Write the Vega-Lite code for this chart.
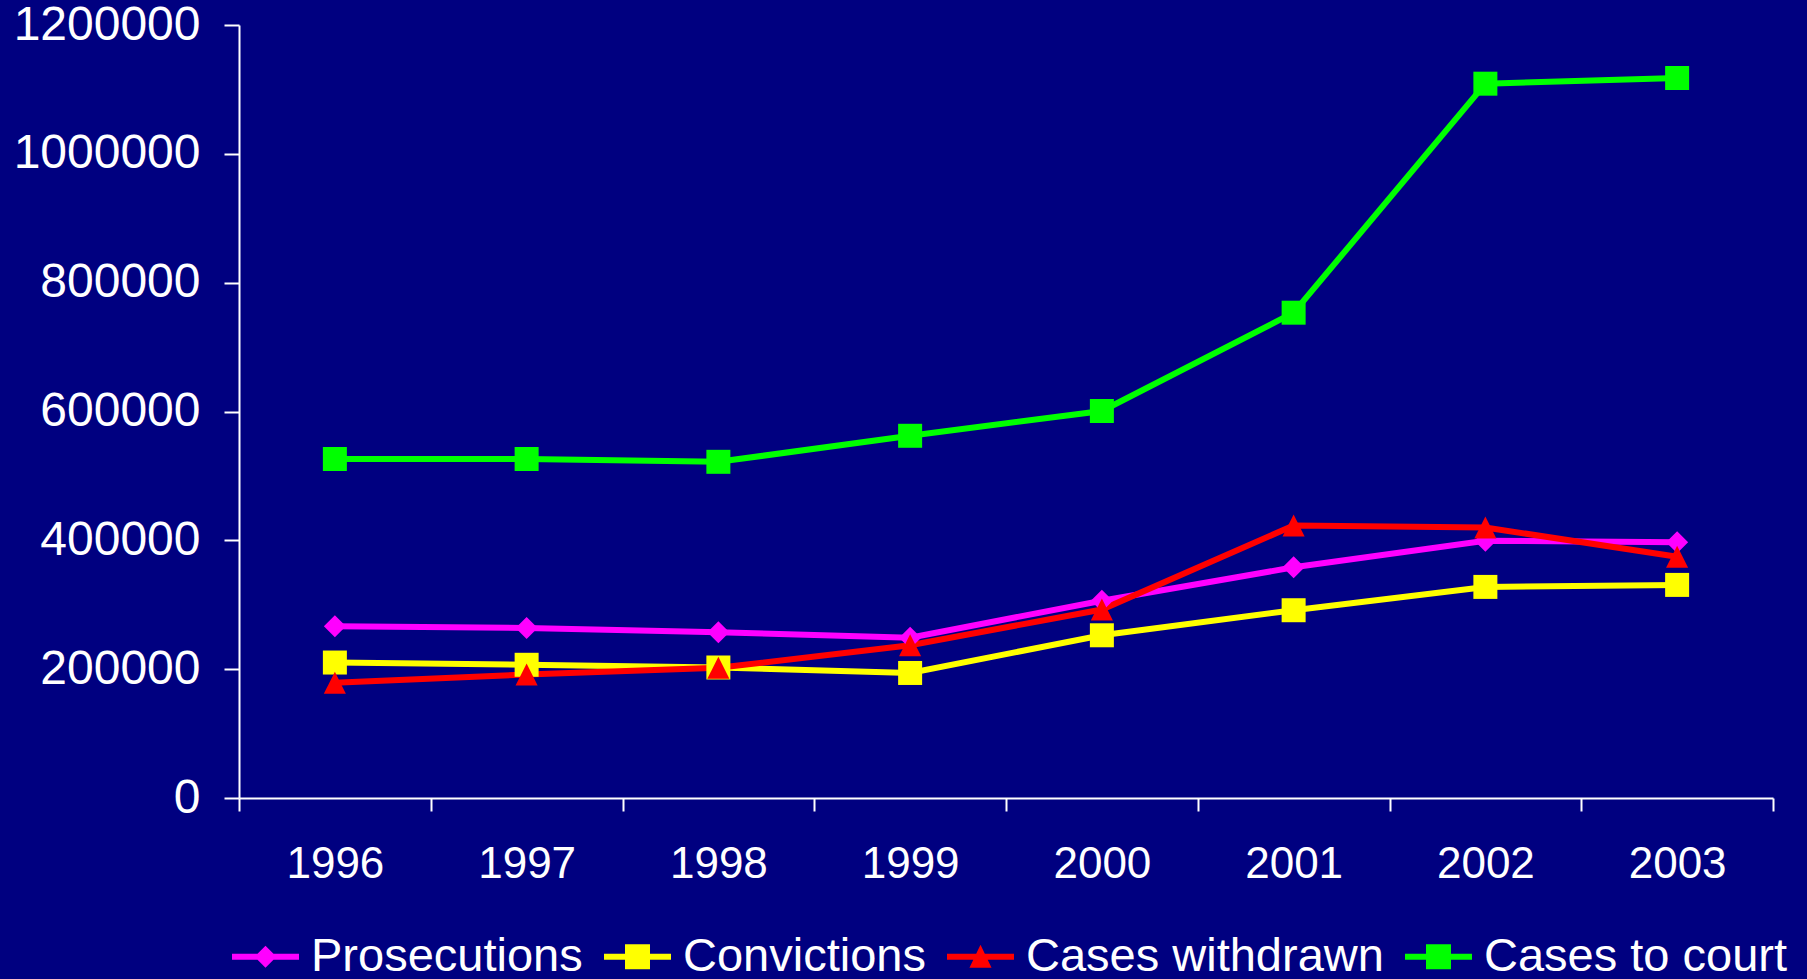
{
  "$schema": "https://vega.github.io/schema/vega-lite/v6.json",
  "width": 1534,
  "height": 773,
  "autosize": {"type": "none"},
  "padding": {"left": 239, "top": 25, "right": 34, "bottom": 181},
  "background": "#000080",
  "config": {
    "view": {"stroke": null},
    "font": "Liberation Sans"
  },
  "data": {
    "values": [
      {"year": "1996", "series": "Prosecutions", "value": 266700},
      {"year": "1997", "series": "Prosecutions", "value": 263900},
      {"year": "1998", "series": "Prosecutions", "value": 257400},
      {"year": "1999", "series": "Prosecutions", "value": 248700},
      {"year": "2000", "series": "Prosecutions", "value": 306300},
      {"year": "2001", "series": "Prosecutions", "value": 358100},
      {"year": "2002", "series": "Prosecutions", "value": 399300},
      {"year": "2003", "series": "Prosecutions", "value": 397100},
      {"year": "1996", "series": "Convictions", "value": 210300},
      {"year": "1997", "series": "Convictions", "value": 206800},
      {"year": "1998", "series": "Convictions", "value": 202600},
      {"year": "1999", "series": "Convictions", "value": 194100},
      {"year": "2000", "series": "Convictions", "value": 252600},
      {"year": "2001", "series": "Convictions", "value": 291500},
      {"year": "2002", "series": "Convictions", "value": 327700},
      {"year": "2003", "series": "Convictions", "value": 330800},
      {"year": "1996", "series": "Cases withdrawn", "value": 178800},
      {"year": "1997", "series": "Cases withdrawn", "value": 191700},
      {"year": "1998", "series": "Cases withdrawn", "value": 202100},
      {"year": "1999", "series": "Cases withdrawn", "value": 237200},
      {"year": "2000", "series": "Cases withdrawn", "value": 292600},
      {"year": "2001", "series": "Cases withdrawn", "value": 423000},
      {"year": "2002", "series": "Cases withdrawn", "value": 419900},
      {"year": "2003", "series": "Cases withdrawn", "value": 374600},
      {"year": "1996", "series": "Cases to court", "value": 526300},
      {"year": "1997", "series": "Cases to court", "value": 526300},
      {"year": "1998", "series": "Cases to court", "value": 521900},
      {"year": "1999", "series": "Cases to court", "value": 562300},
      {"year": "2000", "series": "Cases to court", "value": 600800},
      {"year": "2001", "series": "Cases to court", "value": 753400},
      {"year": "2002", "series": "Cases to court", "value": 1108900},
      {"year": "2003", "series": "Cases to court", "value": 1117700}
    ]
  },
  "encoding": {
    "x": {
      "field": "year",
      "type": "ordinal",
      "scale": {"type": "band", "paddingInner": 0, "paddingOuter": 0},
      "axis": {
        "title": null,
        "labelAngle": 0,
        "labelFontSize": 44,
        "labelColor": "white",
        "labelFont": "Liberation Sans",
        "labelPadding": 31,
        "labelLimit": 0,
        "tickBand": "extent",
        "tickSize": 13,
        "tickWidth": 2,
        "tickColor": "white",
        "domainColor": "white",
        "domainWidth": 2,
        "grid": false
      }
    },
    "y": {
      "field": "value",
      "type": "quantitative",
      "scale": {"domain": [0, 1200000], "nice": false},
      "axis": {
        "title": null,
        "values": [0, 200000, 400000, 600000, 800000, 1000000, 1200000],
        "format": "d",
        "labelFontSize": 48,
        "labelColor": "white",
        "labelFont": "Liberation Sans",
        "labelPadding": 24,
        "labelLimit": 0,
        "tickSize": 15,
        "tickWidth": 2,
        "tickColor": "white",
        "domainColor": "white",
        "domainWidth": 2,
        "grid": false
      }
    }
  },
  "layer": [
    {
      "mark": {"type": "line", "strokeWidth": 6},
      "encoding": {
        "color": {
          "field": "series",
          "type": "nominal",
          "scale": {
            "domain": ["Prosecutions", "Convictions", "Cases withdrawn", "Cases to court"],
            "range": ["#FF00FF", "#FFFF00", "#FF0000", "#00FF00"]
          },
          "legend": null
        }
      }
    },
    {
      "mark": {"type": "point", "filled": true, "opacity": 1, "size": 576, "strokeWidth": 0},
      "encoding": {
        "color": {"field": "series", "type": "nominal", "legend": null},
        "shape": {
          "field": "series",
          "type": "nominal",
          "scale": {
            "domain": ["Prosecutions", "Convictions", "Cases withdrawn", "Cases to court"],
            "range": [
              "M0,-0.917L0.917,0L0,0.917L-0.917,0Z",
              "M-1,-1L1,-1L1,1L-1,1Z",
              "M0,-0.92L0.92,0.92L-0.92,0.92Z",
              "M-1,-1L1,-1L1,1L-1,1Z"
            ]
          },
          "legend": null
        }
      }
    },
    {
      "mark": {"type": "point", "filled": true, "opacity": 0, "size": 4489, "strokeWidth": 0},
      "encoding": {
        "color": {
          "field": "series",
          "type": "nominal",
          "legend": {
            "orient": "none",
            "legendX": -7,
            "legendY": 898,
            "direction": "horizontal",
            "title": null,
            "padding": 0,
            "symbolSize": 4489,
            "symbolOpacity": 1,
            "symbolStrokeWidth": 0,
            "labelFontSize": 47,
            "labelFont": "Liberation Sans",
            "labelColor": "white",
            "labelLimit": 0,
            "labelOffset": 12,
            "columnPadding": 21
          }
        },
        "shape": {
          "field": "series",
          "type": "nominal",
          "scale": {
            "domain": ["Prosecutions", "Convictions", "Cases withdrawn", "Cases to court"],
            "range": [
              "M-1,-0.09L-0.238,-0.09L0,-0.328L0.238,-0.09L1,-0.09L1,0.09L0.238,0.09L0,0.328L-0.238,0.09L-1,0.09Z",
              "M-1,-0.09L-0.373,-0.09L-0.373,-0.373L0.373,-0.373L0.373,-0.09L1,-0.09L1,0.09L0.373,0.09L0.373,0.373L-0.373,0.373L-0.373,0.09L-1,0.09Z",
              "M-1,-0.09L-0.129,-0.09L0,-0.36L0.129,-0.09L1,-0.09L1,0.09L0.215,0.09L0.33,0.33L-0.33,0.33L-0.215,0.09L-1,0.09Z",
              "M-1,-0.09L-0.373,-0.09L-0.373,-0.373L0.373,-0.373L0.373,-0.09L1,-0.09L1,0.09L0.373,0.09L0.373,0.373L-0.373,0.373L-0.373,0.09L-1,0.09Z"
            ]
          },
          "legend": {
            "orient": "none",
            "legendX": -7,
            "legendY": 898,
            "direction": "horizontal",
            "title": null,
            "padding": 0,
            "symbolSize": 4489,
            "symbolOpacity": 1,
            "symbolStrokeWidth": 0,
            "labelFontSize": 47,
            "labelFont": "Liberation Sans",
            "labelColor": "white",
            "labelLimit": 0,
            "labelOffset": 12,
            "columnPadding": 21
          }
        }
      }
    }
  ],
  "resolve": {
    "scale": {"shape": "independent"},
    "legend": {"shape": "independent", "color": "independent"}
  }
}
